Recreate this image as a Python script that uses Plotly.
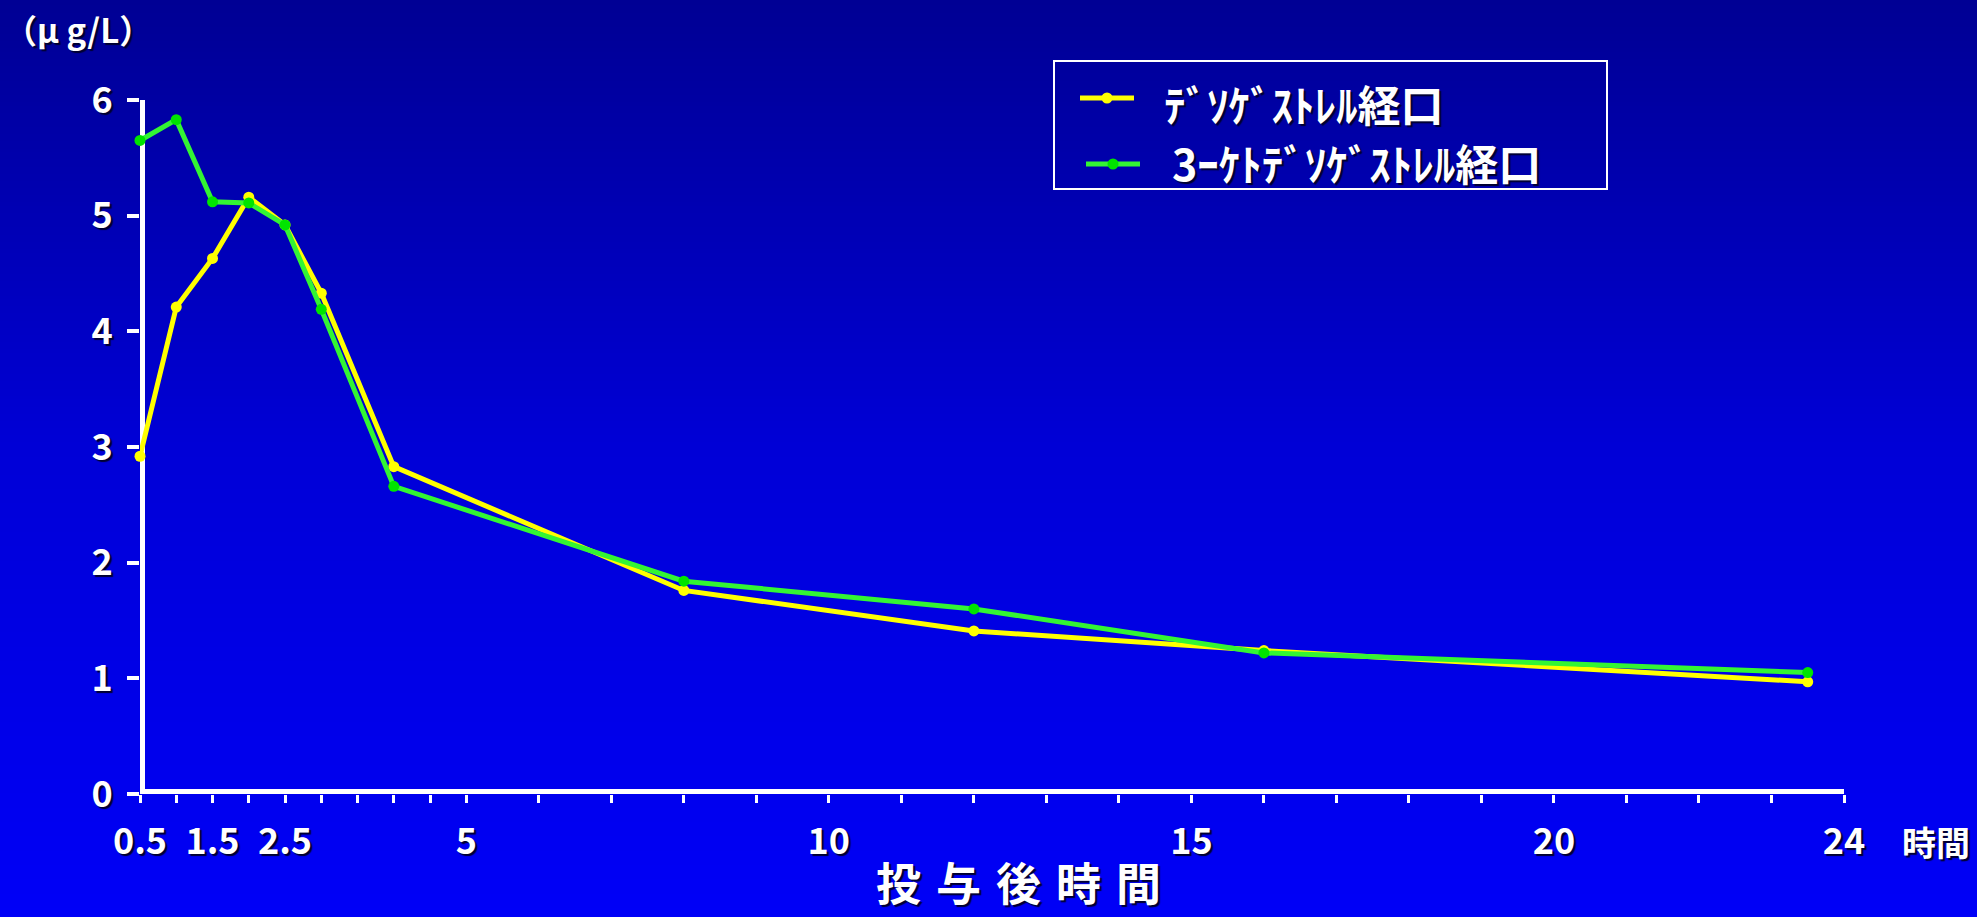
import base64
import struct
import zlib

import plotly.graph_objects as go

# Plasma concentration (μg/L) after oral dosing
hours = [0.5, 1, 1.5, 2, 2.5, 3, 4, 8, 12, 16, 23.5]
desogestrel = [2.92, 4.21, 4.63, 5.16, 4.92, 4.33, 2.83, 1.76, 1.41, 1.24, 0.97]
keto_desogestrel = [5.65, 5.83, 5.12, 5.11, 4.92, 4.19, 2.66, 1.84, 1.60, 1.22, 1.05]

series_names = ["ﾃﾞｿｹﾞｽﾄﾚﾙ経口", "3ｰｹﾄﾃﾞｿｹﾞｽﾄﾚﾙ経口"]
series_colors = ["#FFFF00", "#33F533"]
marker_colors = ["#FFFF00", "#00E400"]

x_tickvals = [0.5, 1, 1.5, 2, 2.5, 3, 3.5, 4, 4.5, 5] + list(range(6, 25))
x_labelled = {0.5: "0.5", 1.5: "1.5", 2.5: "2.5", 5: "5", 10: "10", 15: "15", 20: "20", 24: "24"}
x_ticktext = [x_labelled.get(v, "") for v in x_tickvals]
y_tickvals = [0, 1, 2, 3, 4, 5, 6]

W, H = 1977, 917
L, R, T, B = 140, 133, 100, 123
PW, PH = W - L - R, H - T - B

FONT = "Noto Sans CJK JP"
SHADOW = "2px 2px 1px #000030"


def px(xp):
    return (xp - L) / PW


def py(yp):
    return (H - B - yp) / PH


def gradient_png(stops, height, width=4):
    """Vertical blue gradient as an RGB PNG data URI."""
    rows = b""
    for r in range(height):
        t = r / (height - 1)
        for (t0, c0), (t1, c1) in zip(stops[:-1], stops[1:]):
            if t0 <= t <= t1:
                f = (t - t0) / (t1 - t0) if t1 > t0 else 0
                rgb = tuple(int(round(a + (b - a) * f)) for a, b in zip(c0, c1))
                break
        rows += b"\x00" + bytes(rgb) * width

    def chunk(tag, data):
        return (struct.pack(">I", len(data)) + tag + data
                + struct.pack(">I", zlib.crc32(tag + data) & 0xFFFFFFFF))

    png = (b"\x89PNG\r\n\x1a\n"
           + chunk(b"IHDR", struct.pack(">IIBBBBB", width, height, 8, 2, 0, 0, 0))
           + chunk(b"IDAT", zlib.compress(rows, 9))
           + chunk(b"IEND", b""))
    return "data:image/png;base64," + base64.b64encode(png).decode()


bg = gradient_png([(0.0, (0, 0, 0x94)), (0.49, (0, 0, 0xD7)), (1.0, (0, 0, 0xF7))], 256)

fig = go.Figure()
for name, ys, lc, mc in zip(series_names, [desogestrel, keto_desogestrel], series_colors, marker_colors):
    fig.add_trace(go.Scatter(
        x=hours, y=ys, name=name, mode="lines+markers",
        line=dict(color=lc, width=5),
        marker=dict(color=mc, size=11),
        cliponaxis=False, showlegend=False,
    ))

shapes = [
    # axis lines
    dict(type="line", xref="x", yref="y", x0=0.5, x1=0.5, y0=0, y1=6,
         line=dict(color="white", width=10), layer="below"),
    dict(type="line", xref="x", yref="y", x0=0.5, x1=24, y0=0, y1=0,
         line=dict(color="white", width=10), layer="below"),
    # legend frame
    dict(type="rect", xref="paper", yref="paper", x0=px(1054), x1=px(1607), y0=py(61), y1=py(189),
         line=dict(color="white", width=2), fillcolor="rgba(0,0,0,0)"),
]

# legend rows: sample line with marker, then label
legend_rows = [
    dict(x0=1080, x1=1134, y=98, ty=103, tx=1162),
    dict(x0=1086, x1=1140, y=164, ty=162, tx=1170),
]
annotations = []
for row, name, lc, mc in zip(legend_rows, series_names, series_colors, marker_colors):
    shapes.append(dict(type="line", xref="paper", yref="paper",
                       x0=px(row["x0"]), x1=px(row["x1"]), y0=py(row["y"]), y1=py(row["y"]),
                       line=dict(color=lc, width=5)))
    cx = (row["x0"] + row["x1"]) / 2
    shapes.append(dict(type="circle", xref="paper", yref="paper",
                       x0=px(cx - 5.5), x1=px(cx + 5.5), y0=py(row["y"] + 5.5), y1=py(row["y"] - 5.5),
                       fillcolor=mc, line=dict(width=0)))
    annotations.append(dict(text=name, xref="paper", yref="paper", x=px(row["tx"]), y=py(row["ty"]),
                            xanchor="left", yanchor="middle", showarrow=False,
                            font=dict(family=FONT, size=43, color="white", weight="bold", shadow=SHADOW)))

annotations += [
    dict(text="（μ g/L）", xref="paper", yref="paper", x=px(2), y=py(29),
         xanchor="left", yanchor="middle", showarrow=False,
         font=dict(family=FONT, size=33, color="white", weight="bold", shadow=SHADOW)),
    dict(text="時間", xref="paper", yref="paper", x=px(1936), y=py(841),
         xanchor="center", yanchor="middle", showarrow=False,
         font=dict(family=FONT, size=34, color="white", weight="bold", shadow=SHADOW)),
    dict(text="投\u2004与\u2004後\u2004時\u2004間", xref="paper", yref="paper", x=px(1018), y=py(881),
         xanchor="center", yanchor="middle", showarrow=False,
         font=dict(family=FONT, size=45, color="white", weight="bold", shadow=SHADOW)),
]

tickfont = dict(family=FONT, size=36, color="white", weight="bold", shadow=SHADOW)

fig.update_layout(
    width=W, height=H, autosize=False,
    margin=dict(l=L, r=R, t=T, b=B),
    paper_bgcolor="#0000C4", plot_bgcolor="rgba(0,0,0,0)",
    images=[dict(source=bg, xref="paper", yref="paper", x=px(0), y=py(0),
                 sizex=W / PW, sizey=H / PH, xanchor="left", yanchor="top",
                 sizing="stretch", layer="below")],
    shapes=shapes, annotations=annotations,
    xaxis=dict(range=[0.5, 24], showgrid=False, zeroline=False, showline=False,
               tickmode="array", tickvals=x_tickvals, ticktext=x_ticktext,
               ticks="outside", ticklen=8, tickwidth=3, tickcolor="white",
               tickfont=tickfont, ticklabelstandoff=8),
    yaxis=dict(range=[0, 6], showgrid=False, zeroline=False, showline=False,
               tickmode="array", tickvals=y_tickvals,
               ticks="outside", ticklen=12, tickwidth=4, tickcolor="white",
               tickfont=tickfont, ticklabelstandoff=7),
    showlegend=False,
)

fig.write_html("out.html")
